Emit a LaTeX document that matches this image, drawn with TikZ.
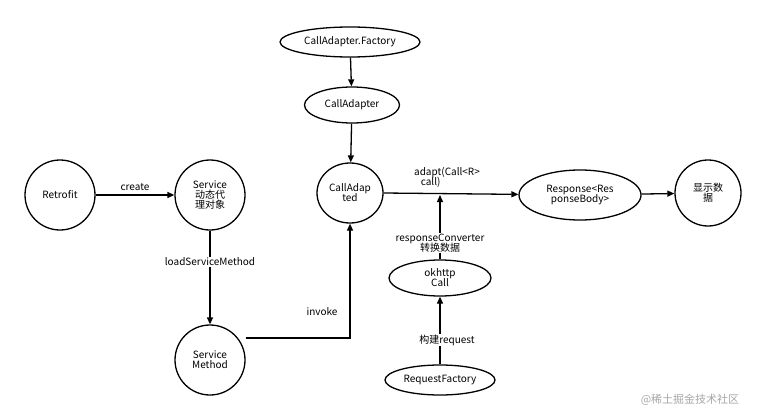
\documentclass[tikz,border=0pt]{standalone}
\usepackage{fontspec}
\setmainfont{Noto Sans CJK SC}
\usetikzlibrary{arrows.meta,shapes.geometric}
\begin{document}
\begin{tikzpicture}[x=1pt,y=-1pt,font=\fontsize{10}{12}\selectfont,
  blk/.style={draw,line width=1.3pt,ellipse,inner sep=0pt,align=center},
  arr/.style={draw,line width=1.3pt,-{Triangle[length=7pt,width=6pt]}},
  lbl/.style={fill=white,inner sep=1pt,align=center}]
\useasboundingbox (0,0) rectangle (776,420);
\node[blk,minimum width=70,minimum height=70] (retro) at (60,195) {Retrofit};
\node[blk,minimum width=70,minimum height=70] (svc) at (210,195) {Service\\[-2pt]动态代\\[-2pt]理对象};
\node[blk,minimum width=70,minimum height=70] (sm) at (210,360) {Service\\[-2pt]Method};
\node[blk,minimum width=140,minimum height=30] (fac) at (350,42) {CallAdapter.Factory};
\node[blk,minimum width=95,minimum height=36] (ca) at (352,105) {CallAdapter};
\node[blk,minimum width=66,minimum height=60] (cad) at (350,193) {CallAdap\\[-2pt]ted};
\node[blk,minimum width=122,minimum height=50] (resp) at (580,195) {Response<Res\\[-2pt]ponseBody>};
\node[blk,minimum width=66,minimum height=66] (show) at (708,193) {显示数\\[-2pt]据};
\node[blk,minimum width=102,minimum height=36] (ok) at (440,278) {okhttp\\[-2pt]Call};
\node[blk,minimum width=110,minimum height=30] (rf) at (440,380) {RequestFactory};
\coordinate (j) at (440,195);
\coordinate (k) at (350,338);
\draw[arr] (retro) -- node[above] {create} (svc);
\draw[arr] (svc) -- node[lbl,pos=0.33] {loadServiceMethod} (sm);
\draw[arr] (sm.east |- k) -- (k) -- (cad);
\node at (322,312) {invoke};
\draw[arr] (fac) -- (ca);
\draw[arr] (ca) -- (cad);
\draw[arr] (cad.east) -- (resp);
\node[align=left] at (447,177) {adapt(Call<R>\\[-2pt]\ \ \ call)};
\draw[arr] (resp) -- (show);
\draw[arr] (ok) -- (j);
\node[lbl] at (440,243) {responseConverter\\[-2pt]转换数据};
\draw[arr] (rf) -- (ok);
\node[lbl] at (447,340) {构建request};
\node[text=gray!70,font=\fontsize{11}{13}\selectfont] at (690,400) {@稀土掘金技术社区};
\end{tikzpicture}
\end{document}
